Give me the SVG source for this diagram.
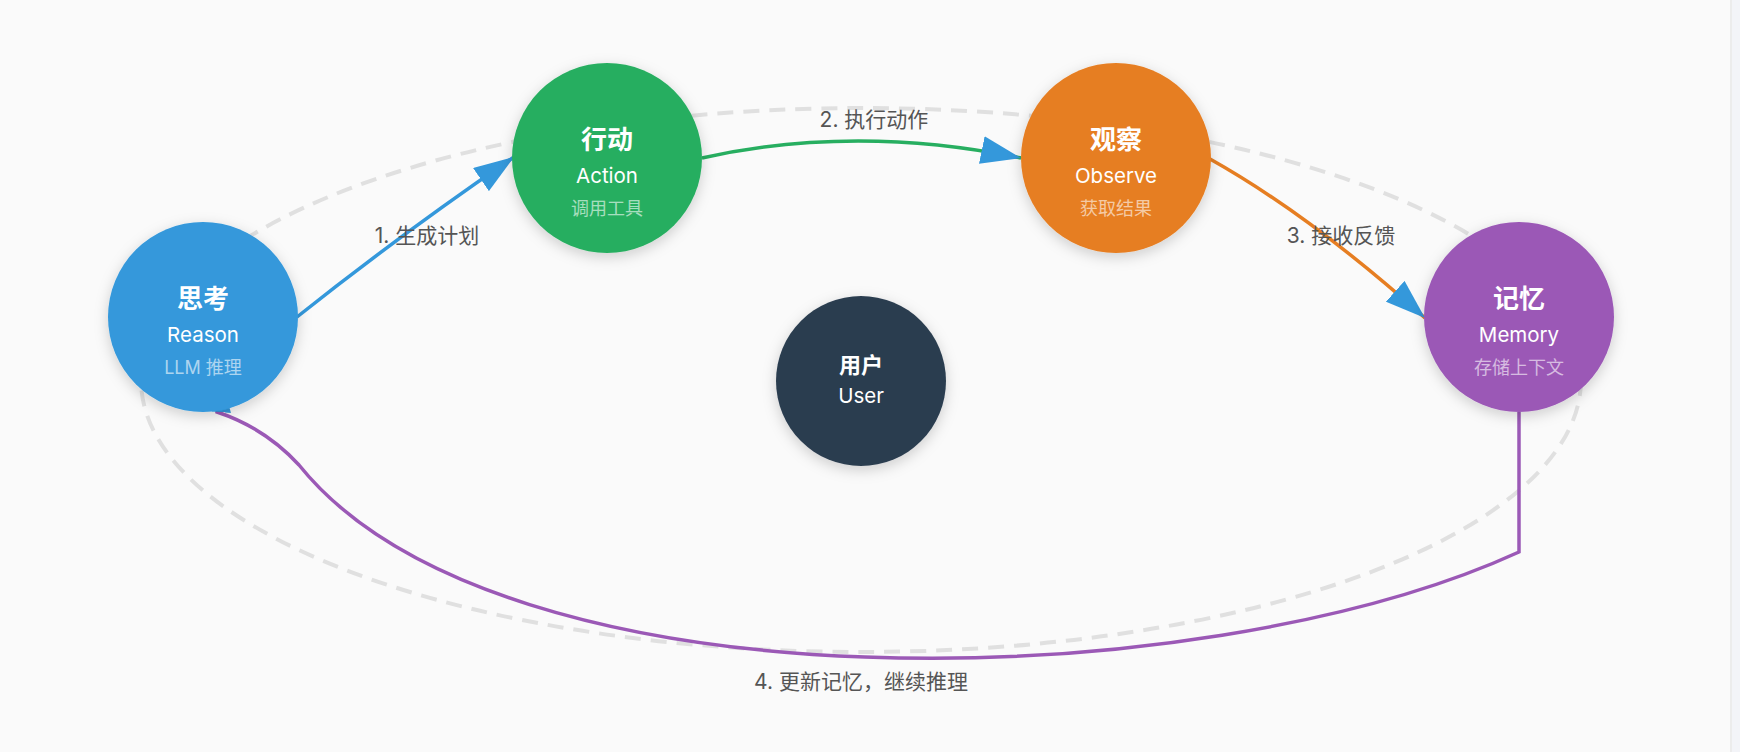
<svg xmlns="http://www.w3.org/2000/svg" width="1740" height="752" viewBox="0 0 1740 752">
<defs>
<style>
.title{font-family:Inter,"Noto Sans CJK SC",sans-serif;font-size:26px;font-weight:700;fill:#fff;text-anchor:middle}
.sub{font-family:Inter,"Noto Sans CJK SC",sans-serif;font-size:20.5px;fill:#fff;text-anchor:middle}
.desc{font-family:Inter,"Noto Sans CJK SC",sans-serif;font-size:18px;fill:#fff;fill-opacity:0.6;text-anchor:middle}
.lbl{font-family:Inter,"Noto Sans CJK SC",sans-serif;font-size:21px;fill:#555;text-anchor:middle}
.edge{fill:none;stroke-width:3.5}
</style>
<filter id="sh" x="-30%" y="-30%" width="160%" height="160%">
<feDropShadow dx="0" dy="4" stdDeviation="7" flood-color="#000" flood-opacity="0.18"/>
</filter>
<marker id="ah" markerUnits="userSpaceOnUse" markerWidth="40" markerHeight="28" refX="40" refY="14" orient="auto">
<path d="M0,0 L40,14 L0,28 Z" fill="#3498db"/>
</marker>
</defs>
<rect width="1740" height="752" fill="#fafafa"/>
<rect x="1730" y="0" width="10" height="752" fill="#f3f4f8"/>
<rect x="1730" y="0" width="2" height="752" fill="#ececec"/>
<ellipse cx="861" cy="380" rx="720" ry="272" fill="none" stroke="#e0e0e0" stroke-width="4" stroke-dasharray="16 10"/>
<g id="connectors">
<path class="edge" stroke="#3498db" d="M297,317 Q400,235 514,157" marker-end="url(#ah)"/>
<path class="edge" stroke="#27ae60" d="M702,158 Q855,124 1021,158" marker-end="url(#ah)"/>
<path class="edge" stroke="#e67e22" d="M1210,159 Q1310,215 1425,318" marker-end="url(#ah)"/>
<path class="edge" stroke="#9b59b6" d="M1519,412 L1519,552 C1200,698 500,715 299,465 Q265,428 217,412 L220,372" marker-end="url(#ah)"/>
<text class="lbl" x="427" y="243">1. 生成计划</text>
<text class="lbl" x="874" y="127">2. 执行动作</text>
<text class="lbl" x="1341" y="243">3. 接收反馈</text>
<text class="lbl" x="861" y="689">4. 更新记忆，继续推理</text>
</g>
<g id="node-reason">
<circle cx="203" cy="317" r="95" fill="#3498db" filter="url(#sh)"/>
<text class="title" x="203" y="308">思考</text>
<text class="sub" x="203" y="342">Reason</text>
<text class="desc" x="203" y="374">LLM 推理</text>
</g>
<g id="node-action">
<circle cx="607" cy="158" r="95" fill="#27ae60" filter="url(#sh)"/>
<text class="title" x="607" y="149">行动</text>
<text class="sub" x="607" y="183">Action</text>
<text class="desc" x="607" y="215">调用工具</text>
</g>
<g id="node-observe">
<circle cx="1116" cy="158" r="95" fill="#e67e22" filter="url(#sh)"/>
<text class="title" x="1116" y="149">观察</text>
<text class="sub" x="1116" y="183">Observe</text>
<text class="desc" x="1116" y="215">获取结果</text>
</g>
<g id="node-memory">
<circle cx="1519" cy="317" r="95" fill="#9b59b6" filter="url(#sh)"/>
<text class="title" x="1519" y="308">记忆</text>
<text class="sub" x="1519" y="342">Memory</text>
<text class="desc" x="1519" y="374">存储上下文</text>
</g>
<g id="node-user">
<circle cx="861" cy="381" r="85" fill="#2c3e50" filter="url(#sh)"/>
<text class="title" x="861" y="373" style="font-size:22px">用户</text>
<text class="sub" x="861" y="403">User</text>
</g>
</svg>
